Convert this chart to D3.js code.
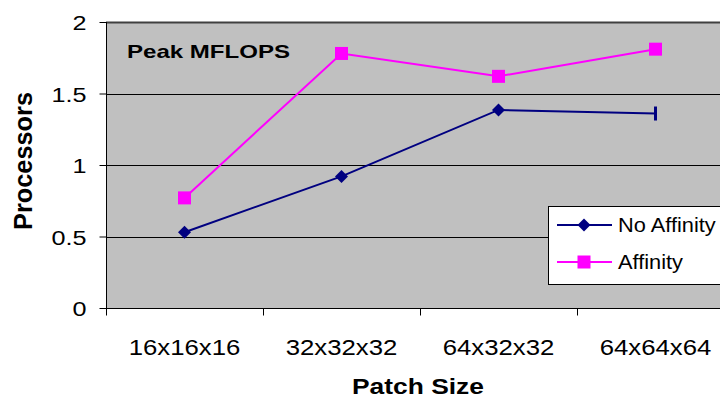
<!DOCTYPE html>
<html>
<head>
<meta charset="utf-8">
<script src="https://cdn.jsdelivr.net/npm/d3@7"></script>
<style>
  html, body { margin: 0; padding: 0; background: #fff; }
  svg { display: block; font-family: Arial, "Liberation Sans", sans-serif; }
</style>
</head>
<body>
<svg id="chart" width="720" height="402"></svg>
<script>
// Patch sizes along the x axis
const categories = ["16x16x16", "32x32x32", "64x32x32", "64x64x64"];
// Speedup per series
const noAffinity = [0.53, 0.92, 1.385, 1.36];
const affinity = [0.77, 1.78, 1.62, 1.81];
const yTicks = [0, 0.5, 1, 1.5, 2];
const seriesNames = ["No Affinity", "Affinity"];

const svg = d3.select("#chart");
const plot = { left: 106, top: 22, bottom: 308, right: 734 };

const x = d3.scaleBand().domain(categories).range([plot.left, plot.right]);
const y = d3.scaleLinear().domain([0, 2]).range([plot.bottom, plot.top]);

// text is drawn slightly widened, as in the original chart export
function wide(sel, sx) {
  sel.each(function () {
    const t = d3.select(this);
    const ax = +t.attr("x") || 0;
    t.attr("transform", `translate(${ax},0) scale(${sx},1) translate(${-ax},0)`);
  });
  return sel;
}

// plot background
svg.append("rect")
  .attr("x", plot.left).attr("y", plot.top)
  .attr("width", plot.right - plot.left).attr("height", plot.bottom - plot.top)
  .attr("fill", "#c0c0c0");

// horizontal gridlines
svg.append("g").selectAll("line").data(yTicks.filter(d => d > 0 && d < 2)).join("line")
  .attr("x1", plot.left).attr("x2", plot.right)
  .attr("y1", d => Math.round(y(d)) + 0.5).attr("y2", d => Math.round(y(d)) + 0.5)
  .attr("stroke", "#000").attr("stroke-width", 1);
// top border of plot
svg.append("line")
  .attr("x1", plot.left).attr("x2", plot.right)
  .attr("y1", y(2) + 0.5).attr("y2", y(2) + 0.5)
  .attr("stroke", "#404040").attr("stroke-width", 2);

// y axis
const yAxis = d3.axisLeft(y).tickValues(yTicks).tickSize(7).tickPadding(0)
  .tickFormat(d3.format("~g"));
const gy = svg.append("g").attr("transform", `translate(${plot.left + 0.5},0)`).call(yAxis);
gy.select(".domain").attr("stroke", "#000").attr("d", `M0,${plot.top}V${plot.bottom}`);
gy.selectAll(".tick line").attr("stroke", "#000");
gy.selectAll(".tick text")
  .attr("x", -20).attr("dy", "0.36em")
  .attr("font-size", 21).attr("fill", "#000")
  .attr("font-family", "Arial, 'Liberation Sans', sans-serif")
  .call(wide, 1.2);

// x axis: ticks at band boundaries, labels centred
const gx = svg.append("g").attr("transform", `translate(0,${plot.bottom + 0.5})`);
gx.append("line").attr("x1", plot.left).attr("x2", plot.right).attr("stroke", "#000");
gx.selectAll("line.tk").data(categories).join("line").attr("class", "tk")
  .attr("x1", d => Math.round(x(d)) + 0.5).attr("x2", d => Math.round(x(d)) + 0.5)
  .attr("y1", 0).attr("y2", 7).attr("stroke", "#000");
gx.selectAll("text").data(categories).join("text")
  .attr("x", d => x(d) + x.bandwidth() / 2).attr("y", 47)
  .attr("text-anchor", "middle").attr("font-size", 23).attr("fill", "#000")
  .text(d => d)
  .call(wide, 1.12);

// lines
const cx = i => x(categories[i]) + x.bandwidth() / 2;
const line = d3.line().x((d, i) => cx(i)).y(d => y(d));
svg.append("path").datum(affinity).attr("d", line)
  .attr("fill", "none").attr("stroke", "#ff00ff").attr("stroke-width", 2);
svg.append("path").datum(noAffinity).attr("d", line)
  .attr("fill", "none").attr("stroke", "#000080").attr("stroke-width", 2);

// No Affinity markers: diamonds, last point drawn as a bar marker
svg.append("g").selectAll("path").data(noAffinity).join("path")
  .attr("transform", (d, i) => `translate(${cx(i)},${y(d)})`)
  .attr("d", (d, i) => i === noAffinity.length - 1 ? "M-1.5,-7H1.5V7H-1.5Z" : "M0,-6.5L6.5,0L0,6.5L-6.5,0Z")
  .attr("fill", "#000080");

// Affinity markers: squares
svg.append("g").selectAll("rect").data(affinity).join("rect")
  .attr("x", (d, i) => cx(i) - 6.5).attr("y", d => y(d) - 6.5)
  .attr("width", 13).attr("height", 13).attr("fill", "#ff00ff");

// chart title inside plot
svg.append("text").attr("x", 127).attr("y", 58)
  .attr("font-size", 19).attr("font-weight", "bold").text("Peak MFLOPS")
  .attr("textLength", 163).attr("lengthAdjust", "spacingAndGlyphs");

// axis titles
svg.append("text").attr("transform", "translate(32,161) rotate(-90)")
  .attr("text-anchor", "middle").attr("font-size", 25).attr("font-weight", "bold")
  .attr("textLength", 138).attr("lengthAdjust", "spacingAndGlyphs")
  .text("Processors");
svg.append("text").attr("x", 352).attr("y", 394)
  .attr("font-size", 22).attr("font-weight", "bold")
  .attr("textLength", 132).attr("lengthAdjust", "spacingAndGlyphs")
  .text("Patch Size");

// legend
const lg = svg.append("g");
lg.append("rect").attr("x", 548.5).attr("y", 206.5).attr("width", 190).attr("height", 78)
  .attr("fill", "#fff").attr("stroke", "#000").attr("stroke-width", 1);
const colors = ["#000080", "#ff00ff"];
seriesNames.forEach((name, i) => {
  const ly = 225 + i * 37;
  lg.append("line").attr("x1", 557).attr("x2", 612).attr("y1", ly).attr("y2", ly)
    .attr("stroke", colors[i]).attr("stroke-width", 2);
  if (i === 0) {
    lg.append("path").attr("transform", `translate(584,${ly})`)
      .attr("d", "M0,-6.5L6.5,0L0,6.5L-6.5,0Z").attr("fill", colors[i]);
  } else {
    lg.append("rect").attr("x", 577.5).attr("y", ly - 6.5).attr("width", 13).attr("height", 13)
      .attr("fill", colors[i]);
  }
  lg.append("text").attr("x", 618).attr("y", ly + 7).attr("font-size", 20).text(name)
    .call(wide, 1.09);
});
</script>
</body>
</html>
